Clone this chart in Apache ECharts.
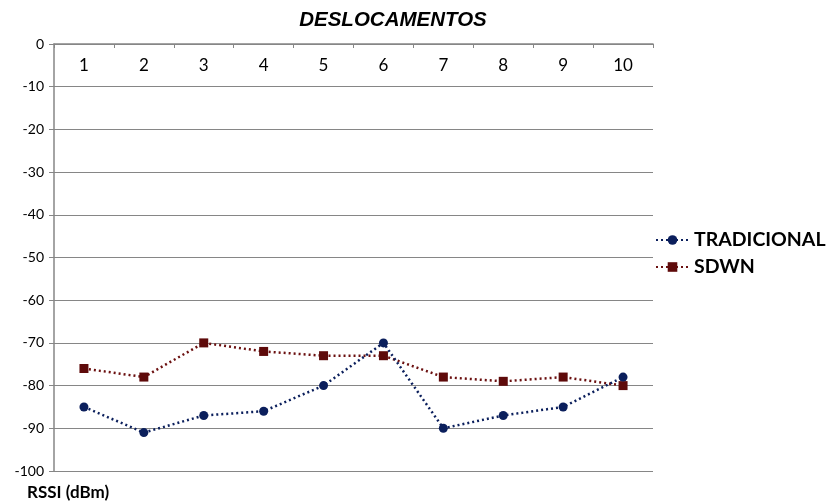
<!DOCTYPE html>
<html>
<head>
<meta charset="utf-8">
<style>
  html, body { margin: 0; padding: 0; background: #fff; }
  #chart { width: 830px; height: 501px; }
</style>
<script src="https://cdn.jsdelivr.net/npm/echarts@6/dist/echarts.min.js"></script>
</head>
<body>
<div id="chart"></div>
<script>
// Displacement positions and RSSI readings (dBm) per network type
const categories = ['1', '2', '3', '4', '5', '6', '7', '8', '9', '10'];
const tradicional = [-85, -91, -87, -86, -80, -70, -90, -87, -85, -78];
const sdwn = [-76, -78, -70, -72, -73, -73, -78, -79, -78, -80];
const yMin = -100;
const yMax = 0;
const yStep = 10;

const chart = echarts.init(document.getElementById('chart'));

const bodyFont = 'Lato, "Open Sans", sans-serif';
const axisGray = '#868686';

chart.setOption({
  animation: false,
  backgroundColor: '#ffffff',
  title: {
    text: 'DESLOCAMENTOS',
    left: 393,
    top: 10,
    padding: 0,
    textAlign: 'center',
    textStyle: {
      fontFamily: '"Liberation Sans", Arial, sans-serif',
      fontSize: 20.5,
      fontWeight: 'bold',
      fontStyle: 'italic',
      color: '#000'
    }
  },
  legend: {
    orient: 'vertical',
    left: 655,
    top: 230,
    padding: 0,
    itemWidth: 33,
    itemHeight: 12,
    itemGap: 7,
    textStyle: {
      fontFamily: bodyFont,
      fontSize: 19.5,
      lineHeight: 20,
      fontWeight: 'bold',
      color: '#000'
    },
    data: ['TRADICIONAL', 'SDWN']
  },
  grid: {
    left: 54,
    right: 177,
    top: 44,
    bottom: 30,
    containLabel: false
  },
  xAxis: {
    type: 'category',
    position: 'top',
    data: categories,
    boundaryGap: true,
    axisLine: { show: true, lineStyle: { color: axisGray, width: 1.5 } },
    axisTick: { show: true, inside: true, length: 4, lineStyle: { color: axisGray } },
    axisLabel: {
      inside: true,
      margin: 13,
      fontFamily: bodyFont,
      fontSize: 17,
      color: '#000'
    },
    splitLine: { show: false }
  },
  yAxis: {
    type: 'value',
    min: yMin,
    max: yMax,
    interval: yStep,
    axisLine: { show: true, lineStyle: { color: axisGray, width: 1.5 } },
    axisTick: { show: true, length: 5, lineStyle: { color: axisGray } },
    axisLabel: {
      margin: 10,
      fontFamily: bodyFont,
      fontSize: 14,
      color: '#000'
    },
    splitLine: { show: true, lineStyle: { color: axisGray, width: 1.2 } }
  },
  graphic: [
    {
      type: 'text',
      left: 27,
      top: 484,
      style: {
        text: 'RSSI (dBm)',
        fontFamily: bodyFont,
        fontSize: 17,
        fontWeight: 'bold',
        fill: '#000'
      }
    }
  ],
  series: [
    {
      name: 'TRADICIONAL',
      type: 'line',
      data: tradicional,
      symbol: 'circle',
      symbolSize: 9,
      itemStyle: { color: '#0b1f5c' },
      lineStyle: { color: '#0b1f5c', width: 2.5, type: [2, 3] },
      z: 3
    },
    {
      name: 'SDWN',
      type: 'line',
      data: sdwn,
      symbol: 'rect',
      symbolSize: 9,
      itemStyle: { color: '#5e0a0a' },
      lineStyle: { color: '#6b1010', width: 2.5, type: [2, 3] },
      z: 2
    }
  ]
});
</script>
</body>
</html>
